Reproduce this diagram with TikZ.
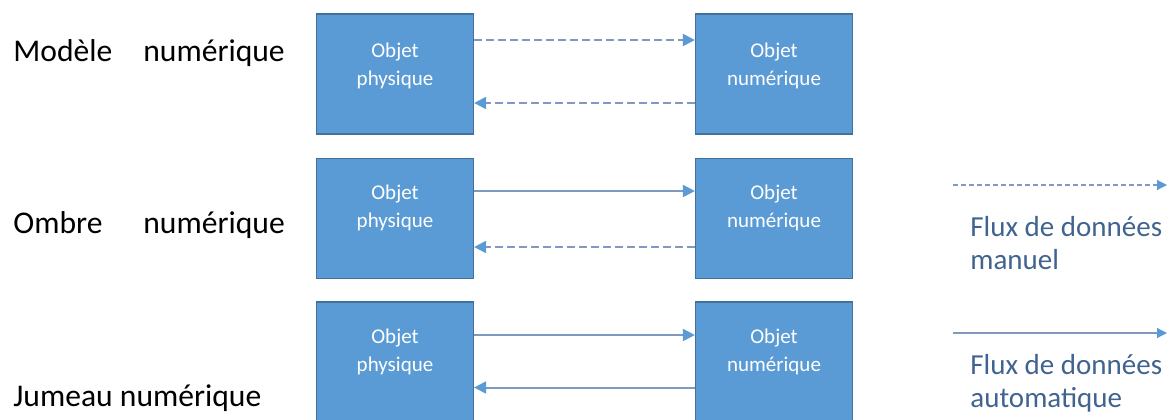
\documentclass[tikz,border=0pt]{standalone}
\usepackage{fontspec}
\setmainfont{Carlito}
\usetikzlibrary{arrows.meta}

\definecolor{boxblue}{HTML}{5B9BD5}
\definecolor{boxedge}{HTML}{41719C}
\definecolor{flowline}{HTML}{7E9AC0}
\definecolor{legendtext}{HTML}{40638F}

\begin{document}
\begin{tikzpicture}[x=0.5pt, y=-0.5pt,
        obj/.style={draw=boxedge, line width=0.6pt, fill=boxblue, minimum width=78.5pt, minimum height=60pt, inner sep=0pt},
        objtext/.style={anchor=base, align=center, text=white, inner sep=0pt, font=\fontsize{10.5}{14}\selectfont},
        rowlabel/.style={anchor=base west, inner sep=0pt, font=\fontsize{15.8}{18}\selectfont},
        legendlabel/.style={anchor=base west, align=left, inner sep=0pt, text=legendtext, font=\fontsize{14.5}{16.5}\selectfont},
        flux/.style={draw=flowline, line width=1pt, -{Triangle[length=6pt, width=6pt, color=boxblue]}},
        fluxman/.style={flux, dash pattern=on 4pt off 2pt},
        legendflux/.style={draw=flowline, line width=0.6pt, -{Triangle[length=5pt, width=5pt, color=boxblue]}}]
    \useasboundingbox (0, 0) rectangle (1169, 419);

    % row labels
    \node [rowlabel] (lmod) at (13, 61) {\makebox[65pt][l]{Modèle}numérique};
    \node [rowlabel] (lomb) at (13, 233) {\makebox[65pt][l]{Ombre}numérique};
    \node [rowlabel] (ljum) at (13, 406) {Jumeau numérique};

    % boxes
    \node [obj] (po1) at (395, 74) {};
    \node [obj] (no1) at (774, 74) {};
    \node [obj] (po2) at (395, 218.5) {};
    \node [obj] (no2) at (774, 218.5) {};
    \node [obj] (po3) at (395, 362) {};
    \node [obj] (no3) at (774, 362) {};

    % text sits on the baseline of its last line
    \node [objtext] (po1t) at ([yshift=-36pt]po1.north) {Objet\\physique};
    \node [objtext] (no1t) at ([yshift=-36pt]no1.north) {Objet\\numérique};
    \node [objtext] (po2t) at ([yshift=-35pt]po2.north) {Objet\\physique};
    \node [objtext] (no2t) at ([yshift=-35pt]no2.north) {Objet\\numérique};
    \node [objtext] (po3t) at ([yshift=-35pt]po3.north) {Objet\\physique};
    \node [objtext] (no3t) at ([yshift=-35pt]no3.north) {Objet\\numérique};

    % flows
    \draw [fluxman] ([yshift=17pt]po1.east) -- ([yshift=17pt]no1.west);
    \draw [fluxman] ([yshift=-14.5pt]no1.west) -- ([yshift=-14.5pt]po1.east);
    \draw [flux] ([yshift=13.75pt]po2.east) -- ([yshift=13.75pt]no2.west);
    \draw [fluxman] ([yshift=-14.25pt]no2.west) -- ([yshift=-14.25pt]po2.east);
    \draw [flux] ([yshift=13.5pt]po3.east) -- ([yshift=13.5pt]no3.west);
    \draw [flux] ([yshift=-12.75pt]no3.west) -- ([yshift=-12.75pt]po3.east);

    % legend
    \coordinate (lm0) at (953, 185);
    \coordinate (lm1) at (1167, 185);
    \coordinate (la0) at (953, 333);
    \coordinate (la1) at (1167, 333);
    \draw [legendflux, dash pattern=on 2.5pt off 1.5pt] (lm0) -- (lm1);
    \draw [legendflux] (la0) -- (la1);
    \node [legendlabel] (lmt) at (970, 269) {Flux de données\\manuel};
    \node [legendlabel] (lat) at (970, 407) {Flux de données\\automatique};
\end{tikzpicture}
\end{document}
